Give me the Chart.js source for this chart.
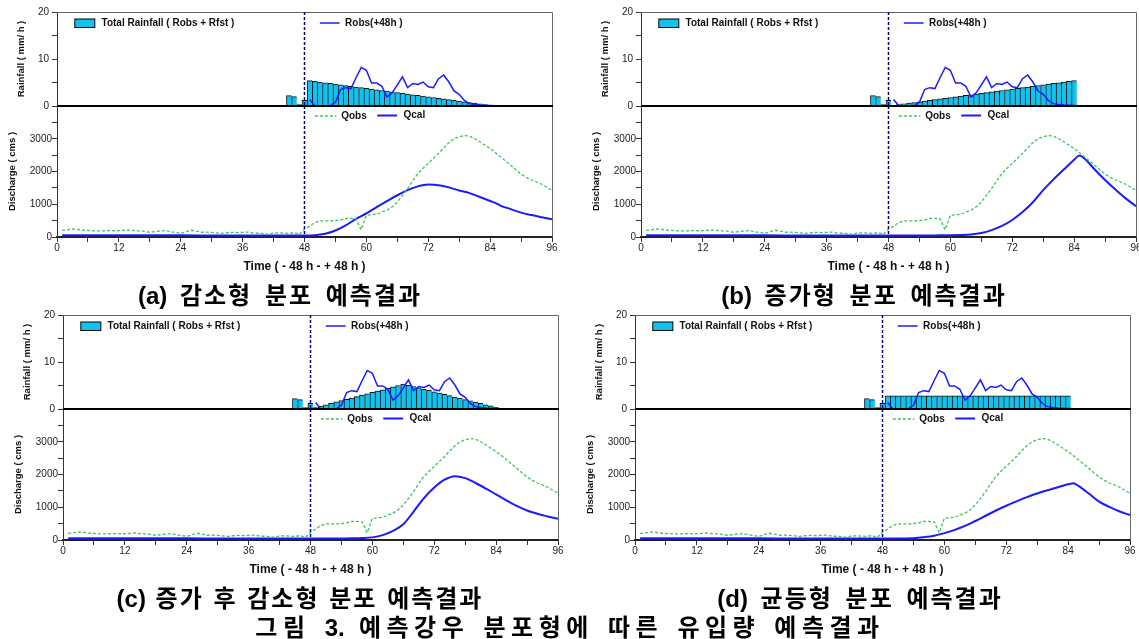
<!DOCTYPE html>
<html lang="ko">

<head>
    <meta charset="UTF-8">
    <title>예측강우 분포형에 따른 유입량 예측결과</title>
    <script src="https://cdn.jsdelivr.net/npm/chart.js"></script>
    <style>
        html, body { margin: 0; padding: 0; background: #fff; overflow: hidden; width: 1139px; height: 639px; }
        .painel { position: absolute; width: 580px; height: 282px; }
        .painel canvas { position: absolute; left: 0; top: 0; }
        .legenda-fig {
            position: absolute; transform: translate(-50%, -50%); white-space: nowrap;
            font-family: "Noto Sans CJK KR", sans-serif; font-weight: bold; font-size: 24px;
            letter-spacing: 2px; word-spacing: 4px; color: #000;
        }
        .legenda-fig span { font-family: "Liberation Sans", Arial, sans-serif; font-weight: bold; letter-spacing: 0; }
    </style>
</head>

<body>
    <div class="painel" style="left:0px;top:0px"><canvas id="qa" width="580" height="282"></canvas><canvas id="ra" width="580" height="282"></canvas></div>
    <div class="painel" style="left:584px;top:0px"><canvas id="qb" width="580" height="282"></canvas><canvas id="rb" width="580" height="282"></canvas></div>
    <div class="painel" style="left:6px;top:303px"><canvas id="qc" width="580" height="282"></canvas><canvas id="rc" width="580" height="282"></canvas></div>
    <div class="painel" style="left:578px;top:303px"><canvas id="qd" width="580" height="282"></canvas><canvas id="rd" width="580" height="282"></canvas></div>

    <div class="legenda-fig" style="left:280px;top:293px"><span>(a)</span> 감소형 분포 예측결과</div>
    <div class="legenda-fig" style="left:864px;top:293px"><span>(b)</span> 증가형 분포 예측결과</div>
    <div class="legenda-fig" style="left:300px;top:596px;word-spacing:1px"><span>(c)</span> 증가 후 감소형 분포 예측결과</div>
    <div class="legenda-fig" style="left:860px;top:596px"><span>(d)</span> 균등형 분포 예측결과</div>
    <div class="legenda-fig" style="left:570px;top:625px;letter-spacing:5.5px;word-spacing:2px">그림 <span>3.</span> 예측강우 분포형에 따른 유입량 예측결과</div>
</body>

</html>

<script>
    // chuva observada antes do ponto de previsao (h 45-48)
    var horasObs = [45, 46, 47, 48];
    var chuvaObs = [2.2, 2.0, 0.3, 1.2];

    // chuva total prevista, h 49 ate 84
    var inicioPrev = 49;
    var chuvaA = [5.40, 5.25, 5.10, 4.95, 4.80, 4.65, 4.50, 4.35, 4.20, 4.05, 3.90, 3.75, 3.60, 3.45, 3.30, 3.15, 3.00, 2.85,
        2.70, 2.55, 2.40, 2.25, 2.10, 1.95, 1.80, 1.65, 1.50, 1.35, 1.20, 1.05, 0.90, 0.75, 0.60, 0.45, 0.30, 0.15];
    var chuvaB = [0.15, 0.30, 0.45, 0.60, 0.75, 0.90, 1.05, 1.20, 1.35, 1.50, 1.65, 1.80, 1.95, 2.10, 2.25, 2.40, 2.55, 2.70,
        2.85, 3.00, 3.15, 3.30, 3.45, 3.60, 3.75, 3.90, 4.05, 4.20, 4.35, 4.50, 4.65, 4.80, 4.95, 5.10, 5.25, 5.40];
    var chuvaC = [0.30, 0.60, 0.90, 1.20, 1.50, 1.80, 2.05, 2.35, 2.65, 2.95, 3.25, 3.55, 3.80, 4.10, 4.40, 4.70, 5.00, 5.30,
        5.05, 4.75, 4.50, 4.20, 3.95, 3.65, 3.40, 3.10, 2.85, 2.55, 2.30, 2.00, 1.75, 1.45, 1.20, 0.90, 0.65, 0.35];
    var chuvaD = [2.8, 2.8, 2.8, 2.8, 2.8, 2.8, 2.8, 2.8, 2.8, 2.8, 2.8, 2.8, 2.8, 2.8, 2.8, 2.8, 2.8, 2.8,
        2.8, 2.8, 2.8, 2.8, 2.8, 2.8, 2.8, 2.8, 2.8, 2.8, 2.8, 2.8, 2.8, 2.8, 2.8, 2.8, 2.8, 2.8];

    // Robs(+48h), h 49 ate 96
    var inicioRobs = 49;
    var robs = [1.4, 0.0, 0.0, 0.05, 0.1, 0.8, 3.5, 3.9, 3.7, 6.0, 8.2, 7.6, 4.9, 4.9, 4.2, 1.9, 2.8, 4.5, 6.2, 3.9,
        4.8, 4.6, 5.1, 4.1, 3.9, 5.8, 6.6, 5.1, 3.2, 2.5, 1.2, 0.5, 0.3, 0.2, 0.15, 0.1,
        0.05, 0.05, 0.05, 0.05, 0.05, 0.05, 0.05, 0.05, 0.05, 0.05, 0.05, 0.05];

    // vazao observada, h 1 ate 96
    var qobs = [200, 215, 245, 230, 210, 200, 190, 185, 190, 195,
        190, 195, 200, 215, 195, 185, 170, 145, 165, 185,
        195, 165, 135, 110, 160, 205, 180, 145, 150, 140,
        125, 110, 130, 140, 135, 140, 150, 125, 115, 105,
        80, 130, 125, 120, 110, 135, 75, 245, 330, 440,
        490, 495, 490, 500, 520, 565, 570, 555, 220, 665,
        680, 690, 760, 820, 920, 1070, 1270, 1480, 1720, 1940,
        2100, 2250, 2400, 2550, 2720, 2880, 3000, 3060, 3100, 3080,
        3000, 2910, 2800, 2700, 2580, 2450, 2320, 2190, 2050, 1920,
        1820, 1740, 1680, 1610, 1520, 1430];

    // vazao calculada
    var qcalHoras = [1, 12, 24, 36, 48, 50, 52, 54, 56, 58, 60, 62, 64, 66, 68, 70, 72, 74, 76, 78, 80, 82, 84, 85, 86, 88, 90, 92, 94, 96];
    var qcalA = [55, 52, 50, 48, 45, 55, 100, 200, 355, 555, 720, 915, 1095, 1275, 1430, 1545, 1600, 1580, 1515, 1420,
        1340, 1220, 1100, 1040, 960, 850, 745, 670, 605, 540];
    var qcalB = [55, 52, 50, 48, 45, 45, 45, 45, 48, 50, 55, 62, 75, 120, 210, 340, 520, 760, 1060, 1430,
        1760, 2060, 2360, 2490, 2400, 2060, 1740, 1450, 1180, 940];
    var qcalC = [55, 52, 50, 48, 45, 45, 45, 47, 50, 58, 80, 150, 280, 480, 870, 1280, 1600, 1840, 1950, 1890,
        1740, 1570, 1390, 1300, 1210, 1040, 900, 800, 720, 645];
    var qcalD = [55, 52, 50, 48, 45, 45, 48, 55, 85, 130, 210, 310, 430, 580, 740, 900, 1045, 1180, 1310, 1420,
        1520, 1610, 1700, 1735, 1650, 1420, 1170, 1010, 870, 765];

    var horaPrevisao = 48;

    Chart.defaults.font.family = "'Liberation Sans', Arial, sans-serif";
    Chart.defaults.color = '#222';

    var corBarra = '#12C2EE';
    var corAzul = '#1A1AFF';
    var corVerde = '#3CC35A';
    var fonteLegenda = 'bold 10px "Liberation Sans", Arial';

    // linha vertical tracejada em h=48
    function linhaPrevisao(chart) {
        const { ctx, chartArea: a } = chart;
        const x = chart.scales.x.getPixelForValue(horaPrevisao);
        ctx.save();
        ctx.strokeStyle = '#000080';
        ctx.lineWidth = 1.5;
        ctx.setLineDash([3, 2]);
        ctx.beginPath();
        ctx.moveTo(x, a.top);
        ctx.lineTo(x, a.bottom);
        ctx.stroke();
        ctx.restore();
    }

    const pluginChuva = {
        id: 'pluginChuva',
        afterDatasetsDraw(chart) {
            const { ctx, chartArea: a } = chart;
            const w = a.right - a.left;
            ctx.save();
            // moldura
            ctx.strokeStyle = '#666';
            ctx.lineWidth = 1;
            ctx.beginPath();
            ctx.moveTo(a.left, a.top + 0.5);
            ctx.lineTo(a.right + 0.5, a.top + 0.5);
            ctx.lineTo(a.right + 0.5, a.bottom);
            ctx.stroke();
            ctx.strokeStyle = '#000';
            ctx.lineWidth = 2;
            ctx.beginPath();
            ctx.moveTo(a.left, a.bottom);
            ctx.lineTo(a.right + 1, a.bottom);
            ctx.stroke();

            // legenda
            const y = a.top + 11;
            ctx.fillStyle = corBarra;
            ctx.fillRect(a.left + 0.036 * w, a.top + 7, 20, 8.5);
            ctx.strokeStyle = '#000';
            ctx.lineWidth = 1;
            ctx.strokeRect(a.left + 0.036 * w, a.top + 7, 20, 8.5);
            ctx.font = fonteLegenda;
            ctx.fillStyle = '#111';
            ctx.textBaseline = 'middle';
            ctx.fillText(chart.data.datasets[0].label, a.left + 0.09 * w, y);
            ctx.strokeStyle = corAzul;
            ctx.lineWidth = 1.5;
            ctx.beginPath();
            ctx.moveTo(a.left + 0.531 * w, y);
            ctx.lineTo(a.left + 0.571 * w, y);
            ctx.stroke();
            ctx.fillText(chart.data.datasets[1].label, a.left + 0.582 * w, y);
            ctx.restore();
            linhaPrevisao(chart);
        }
    };

    const pluginVazao = {
        id: 'pluginVazao',
        afterDatasetsDraw(chart) {
            const { ctx, chartArea: a } = chart;
            const w = a.right - a.left;
            ctx.save();
            ctx.strokeStyle = '#666';
            ctx.lineWidth = 1;
            ctx.beginPath();
            ctx.moveTo(a.right + 0.5, a.top);
            ctx.lineTo(a.right + 0.5, a.bottom);
            ctx.stroke();

            // legenda
            const y = a.top + 10;
            ctx.font = fonteLegenda;
            ctx.fillStyle = '#111';
            ctx.textBaseline = 'middle';
            ctx.strokeStyle = corVerde;
            ctx.lineWidth = 1.3;
            ctx.setLineDash([3, 2]);
            ctx.beginPath();
            ctx.moveTo(a.left + 0.521 * w, y);
            ctx.lineTo(a.left + 0.564 * w, y);
            ctx.stroke();
            ctx.setLineDash([]);
            ctx.fillText(chart.data.datasets[0].label, a.left + 0.574 * w, y);
            ctx.strokeStyle = corAzul;
            ctx.lineWidth = 2;
            ctx.beginPath();
            ctx.moveTo(a.left + 0.647 * w, y - 0.5);
            ctx.lineTo(a.left + 0.687 * w, y - 0.5);
            ctx.stroke();
            ctx.fillText(chart.data.datasets[1].label, a.left + 0.70 * w, y - 0.5);
            ctx.restore();
            linhaPrevisao(chart);
        }
    };

    function eixoY(min, max, passo, titulo, padTitulo, padTicks, rotulo) {
        return {
            min: min,
            max: max,
            ticks: {
                stepSize: passo,
                padding: padTicks,
                font: { size: 10 },
                color: '#222',
                callback: rotulo
            },
            grid: { drawOnChartArea: false, tickLength: 5, color: '#333' },
            border: { color: '#333', width: 1 },
            title: {
                display: true,
                text: titulo,
                color: '#111',
                font: { size: 9.5, weight: 'bold' },
                padding: { top: padTitulo, bottom: 0 }
            },
            afterFit: function (eixo) { eixo.width = 57; }
        };
    }

    function plotarChuva(idCanvas, prevista) {
        let barras = [];
        for (var i = 0; i < horasObs.length; i++) {
            barras.push({ x: horasObs[i], y: chuvaObs[i] });
        }
        for (var i = 0; i < prevista.length; i++) {
            barras.push({ x: inicioPrev + i, y: prevista[i] });
        }
        let linha = robs.map((v, i) => ({ x: inicioRobs + i, y: v }));

        const config = {
            type: 'bar',
            data: {
                datasets: [
                    {
                        type: 'bar',
                        label: 'Total Rainfall ( Robs + Rfst )',
                        data: barras,
                        backgroundColor: corBarra,
                        borderColor: '#111',
                        borderWidth: { left: 1, top: 1, right: 0, bottom: 0 },
                        borderSkipped: false,
                        barPercentage: 1,
                        categoryPercentage: 1,
                        order: 2
                    },
                    {
                        type: 'line',
                        label: 'Robs(+48h )',
                        data: linha,
                        borderColor: corAzul,
                        borderWidth: 1.5,
                        pointRadius: 0,
                        tension: 0,
                        order: 1
                    }
                ]
            },
            options: {
                responsive: false,
                animation: false,
                layout: { padding: { top: 12, bottom: 176, left: 0, right: 28 } },
                plugins: { legend: { display: false }, tooltip: { enabled: false } },
                scales: {
                    x: { type: 'linear', min: 0, max: 96, offset: false, display: false },
                    y: eixoY(0, 20, 5, 'Rainfall ( mm/ h )', 16, 3, v => (v % 10 === 0 ? v : ''))
                }
            },
            plugins: [pluginChuva]
        };
        new Chart(document.getElementById(idCanvas), config);
    }

    function plotarVazao(idCanvas, qcal) {
        let pontosObs = qobs.map((v, i) => ({ x: i + 1, y: v }));
        let pontosCal = qcal.map((v, i) => ({ x: qcalHoras[i], y: v }));

        const config = {
            type: 'line',
            data: {
                datasets: [
                    {
                        label: 'Qobs',
                        data: pontosObs,
                        borderColor: corVerde,
                        borderWidth: 1.3,
                        borderDash: [3, 2],
                        pointRadius: 0,
                        tension: 0
                    },
                    {
                        label: 'Qcal',
                        data: pontosCal,
                        borderColor: corAzul,
                        borderWidth: 2,
                        pointRadius: 0,
                        cubicInterpolationMode: 'monotone'
                    }
                ]
            },
            options: {
                responsive: false,
                animation: false,
                layout: { padding: { top: 106, bottom: 0, left: 0, right: 28 } },
                plugins: { legend: { display: false }, tooltip: { enabled: false } },
                scales: {
                    x: {
                        type: 'linear',
                        min: 0,
                        max: 96,
                        offset: false,
                        ticks: {
                            stepSize: 6,
                            maxTicksLimit: 20,
                            autoSkip: false,
                            maxRotation: 0,
                            padding: 0,
                            font: { size: 10 },
                            color: '#222',
                            callback: v => (v % 12 === 0 ? v : '')
                        },
                        grid: { drawOnChartArea: false, tickLength: 5, color: '#333' },
                        border: { color: '#222', width: 2 },
                        title: {
                            display: true,
                            text: 'Time ( - 48 h - + 48 h )',
                            color: '#111',
                            font: { size: 12, weight: 'bold' },
                            padding: { top: 0, bottom: 8 }
                        },
                        afterFit: function (eixo) { eixo.height = 45; }
                    },
                    y: eixoY(0, 4000, 500, 'Discharge ( cms )', 7, 0, v => (v % 1000 === 0 && v < 4000 ? v : ''))
                }
            },
            plugins: [pluginVazao]
        };
        new Chart(document.getElementById(idCanvas), config);
    }

    plotarVazao('qa', qcalA);
    plotarChuva('ra', chuvaA);
    plotarVazao('qb', qcalB);
    plotarChuva('rb', chuvaB);
    plotarVazao('qc', qcalC);
    plotarChuva('rc', chuvaC);
    plotarVazao('qd', qcalD);
    plotarChuva('rd', chuvaD);
</script>
